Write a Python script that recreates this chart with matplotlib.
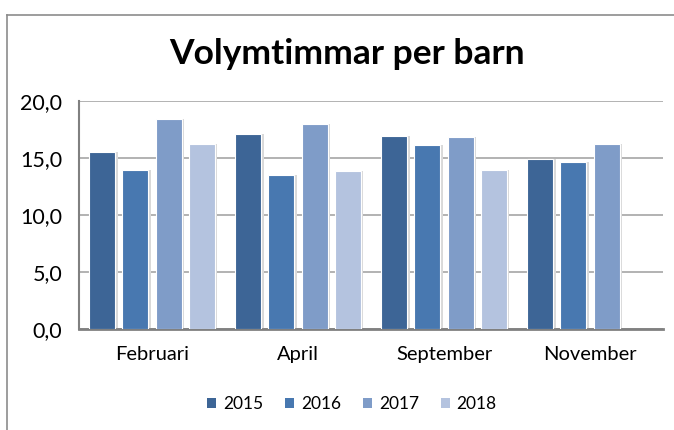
import matplotlib
matplotlib.use("Agg")
import matplotlib.pyplot as plt
from matplotlib.lines import Line2D
from matplotlib.patches import Patch
import numpy as np

categories = ["Februari", "April", "September", "November"]
years = ["2015", "2016", "2017", "2018"]
v2015 = [15.5, 17.1, 16.9, 14.9]
v2016 = [13.9, 13.5, 16.1, 14.6]
v2017 = [18.4, 18.0, 16.85, 16.2]
v2018 = [16.2, 13.85, 13.9, np.nan]
series = [v2015, v2016, v2017, v2018]
colors = ["#3D6596", "#4878B0", "#7F9CC8", "#B4C3DF"]
yticks = [0, 5, 10, 15, 20]
ytick_labels = ["0,0", "5,0", "10,0", "15,0", "20,0"]

plt.rcParams['font.family'] = ['Lato', 'DejaVu Sans']

W, H = 674, 430
fig = plt.figure(figsize=(W / 100, H / 100), dpi=100)
ax = fig.add_axes([79 / W, 1 - 329.3 / H, (663 - 79) / W, (329.3 - 100.7) / H])

x = np.arange(len(categories))
step = 0.228
width = 0.178
for j, (vals, c) in enumerate(zip(series, colors)):
    pos = x + (j - 1.5) * step
    # soft shadow
    ax.bar(pos + 0.012, vals, width=width + 0.01, color="#d9d9d9", zorder=2, linewidth=0)
    ax.bar(pos, vals, width=width, color=c, edgecolor="white", linewidth=0.8, zorder=3)

ax.set_xlim(-0.5, len(categories) - 0.5)
ax.set_ylim(0, 20)
ax.set_yticks(yticks)
ax.set_yticklabels(ytick_labels, fontsize=15.5)
ax.set_xticks(x)
ax.set_xticklabels(categories, fontsize=14.5)
ax.tick_params(axis="y", length=0, pad=12)
ax.tick_params(axis="x", length=0, pad=12)
ax.grid(axis="y", color="#a6a6a6", linewidth=1.2, zorder=1)
ax.set_axisbelow(True)
for s in ["top", "right"]:
    ax.spines[s].set_visible(False)
ax.spines["left"].set_color("#808080")
ax.spines["left"].set_linewidth(1.5)
ax.spines["bottom"].set_color("#808080")
ax.spines["bottom"].set_linewidth(2)

fig.text(347 / W, 1 - 54 / H, "Volymtimmar per barn", ha="center", va="center",
         fontsize=25.5, fontweight="bold")

handles = [Patch(facecolor=c, edgecolor="none") for c in colors]
fig.legend(handles, years, loc="center", bbox_to_anchor=(352 / W, 1 - 404 / H), ncol=4,
           frameon=False, fontsize=12.5, handlelength=0.52, handleheight=0.52,
           handletextpad=0.4, columnspacing=1.25)

# outer chart frame (left and top edges visible)
fig.add_artist(Line2D([7 / W, 7 / W], [0, 1 - 15 / H], transform=fig.transFigure,
                      color="#8c8c8c", linewidth=1.2))
fig.add_artist(Line2D([7 / W, 1], [1 - 15 / H, 1 - 15 / H], transform=fig.transFigure,
                      color="#8c8c8c", linewidth=1.2))

fig.savefig("out.png", dpi=100)
